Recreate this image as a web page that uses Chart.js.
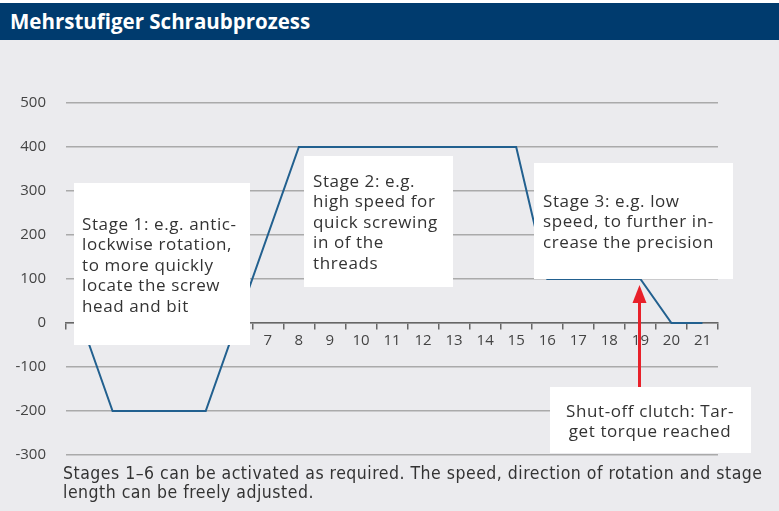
<!DOCTYPE html>
<html>
<head>
<meta charset="utf-8">
<script src="https://cdn.jsdelivr.net/npm/chart.js@4.4.1/dist/chart.umd.min.js"></script>
<style>
    html, body { margin: 0; padding: 0; background: #ffffff; }
    #page { position: relative; width: 779px; height: 511px; overflow: hidden; }
    #bg { position: absolute; left: 0; top: 40px; width: 779px; height: 471px; background: #ebebee; }
    #title { position: absolute; left: 0; top: 3px; width: 779px; height: 37px; background: #003b6e;
        color: #ffffff; font: bold 20.5px "Open Sans", "Noto Sans", sans-serif; line-height: 37px;
        padding-left: 10px; box-sizing: border-box; }
    #chartWrap { position: absolute; left: 0; top: 0; width: 779px; height: 511px; }
    #note { position: absolute; left: 63px; top: 464px; width: 716px; color: #333333;
        font: 17.5px "Liberation Sans Narrow", "DejaVu Sans Condensed", sans-serif; line-height: 19px;
        letter-spacing: 0.5px; white-space: nowrap; }
</style>
</head>
<body>
<div id="page">
    <div id="bg"></div>
    <div id="title">Mehrstufiger Schraubprozess</div>
    <div id="chartWrap"><canvas id="chart_screw" width="779" height="511"></canvas></div>
    <div id="note">Stages 1–6 can be activated as required. The speed, direction of rotation and stage<br>length can be freely adjusted.</div>
</div>
<script>
// stage axis (x) and speed (y)
const STAGE_LABELS = [1, 2, 3, 4, 5, 6, 7, 8, 9, 10, 11, 12, 13, 14, 15, 16, 17, 18, 19, 20, 21];
const PROFILE_X = [1, 2, 5, 8, 15, 16, 19, 20, 21];
const PROFILE_Y = [0, -200, -200, 400, 400, 100, 100, 0, 0];
const Y_TICKS = [-300, -200, -100, 0, 100, 200, 300, 400, 500];

const NOTES = [
    { x: 74, y: 183, w: 176, h: 162, tx: 82, ty: 225, align: 'left',
      lines: ['Stage 1: e.g. antic-', 'lockwise rotation,', 'to more quickly', 'locate the screw', 'head and bit'] },
    { x: 304, y: 156, w: 149, h: 131, tx: 313, ty: 182, align: 'left',
      lines: ['Stage 2: e.g.', 'high speed for', 'quick screwing', 'in of the', 'threads'] },
    { x: 534, y: 163, w: 199, h: 116, tx: 543, ty: 202, align: 'left',
      lines: ['Stage 3: e.g. low', 'speed, to further in-', 'crease the precision'] },
    { x: 550, y: 387, w: 201, h: 66, tx: 650, ty: 412, align: 'center',
      lines: ['Shut-off clutch: Tar-', 'get torque reached'] }
];

var notesPlugin = {
    id: 'notes',
    afterDatasetsDraw(chart) {
        var ctx = chart.ctx;
        ctx.save();
        NOTES.forEach(function (n) {
            ctx.fillStyle = '#ffffff';
            ctx.fillRect(n.x, n.y, n.w, n.h);
            ctx.fillStyle = '#333333';
            ctx.font = '17px "Open Sans", "Noto Sans", sans-serif';
            ctx.letterSpacing = '0.6px';
            ctx.textAlign = n.align;
            ctx.textBaseline = 'middle';
            n.lines.forEach(function (t, i) {
                ctx.fillText(t, n.tx, n.ty + i * 20.5);
            });
        });
        ctx.letterSpacing = '0px';
        // red arrow pointing at the shut-off point (stage 19)
        var ax = Math.round(chart.scales.x.getPixelForValue(19)) - 0.5;
        var tip = chart.scales.y.getPixelForValue(100) + 6;
        ctx.strokeStyle = '#e8202a';
        ctx.fillStyle = '#e8202a';
        ctx.lineWidth = 3;
        ctx.beginPath();
        ctx.moveTo(ax, 387);
        ctx.lineTo(ax, tip + 14);
        ctx.stroke();
        ctx.beginPath();
        ctx.moveTo(ax, tip);
        ctx.lineTo(ax - 7, tip + 18);
        ctx.lineTo(ax + 7, tip + 18);
        ctx.closePath();
        ctx.fill();
        ctx.restore();
    }
};

var points = PROFILE_X.map(function (x, i) { return { x: x, y: PROFILE_Y[i] }; });

var ctx = document.getElementById('chart_screw');
var screwChart = new Chart(ctx, {
    type: 'line',
    data: {
        datasets: [{
            label: 'Speed',
            data: points,
            borderColor: '#22608f',
            borderWidth: 2,
            pointRadius: 0,
            tension: 0,
            fill: false
        }]
    },
    plugins: [notesPlugin],
    options: {
        responsive: false,
        animation: false,
        layout: { padding: { top: 103, bottom: 56, left: 0, right: 61 } },
        plugins: { legend: { display: false }, tooltip: { enabled: false } },
        scales: {
            x: {
                type: 'linear',
                min: 0.5,
                max: 21.5,
                position: { y: 0 },
                afterBuildTicks: function (scale) {
                    scale.ticks = STAGE_LABELS.map(function (v) { return { value: v }; });
                },
                grid: {
                    offset: true,
                    drawOnChartArea: false,
                    drawTicks: true,
                    tickLength: 6,
                    color: '#666666',
                    lineWidth: 1.5
                },
                border: { display: true, color: '#666666', width: 1.5 },
                ticks: {
                    padding: 3,
                    maxRotation: 0,
                    autoSkip: false,
                    color: '#444444',
                    font: { family: '"Open Sans", "Noto Sans", sans-serif', size: 15 },
                    callback: function (v) { return String(v); }
                }
            },
            y: {
                min: -300,
                max: 500,
                afterBuildTicks: function (scale) {
                    scale.ticks = Y_TICKS.map(function (v) { return { value: v }; });
                },
                afterFit: function (scale) { scale.width = 66; },
                grid: { color: '#aaaaaa', lineWidth: 1.5, drawTicks: false },
                border: { display: false },
                ticks: {
                    padding: 20,
                    color: '#444444',
                    font: { family: '"Open Sans", "Noto Sans", sans-serif', size: 15 }
                }
            }
        }
    }
});
</script>
</body>
</html>
